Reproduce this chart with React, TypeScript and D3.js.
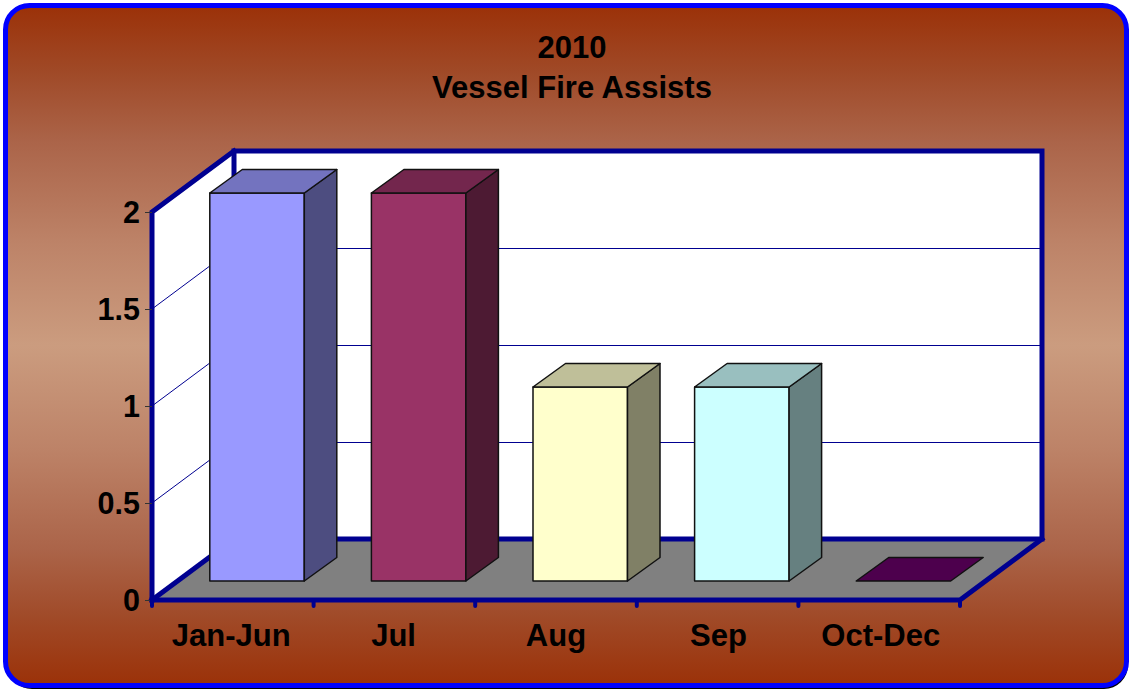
import React from "react";
import * as d3 from "d3";

const categories = ["Jan-Jun", "Jul", "Aug", "Sep", "Oct-Dec"];
const values = [2, 2, 1, 1, 0];
const colors = ["#9999ff", "#993366", "#ffffcc", "#ccffff", "#660066"];
const yTicks = [0, 0.5, 1, 1.5, 2];
const titleLines = ["2010", "Vessel Fire Assists"];

const W = 1129, H = 690;
const FONT = "'Liberation Sans', Arial, sans-serif";
const NAVY = "#000090";
const x0 = 152, x1 = 960, y0 = 600, y1 = 212;
const DX = 82, DY = -61;
const BAR_W = 94.5, BAR_OFF_X = 24.5, BAR_OFF_Y = -19, BAR_DX = 32.5, BAR_DY = -23.5;

const x = d3.scaleBand<string>().domain(categories).range([x0, x1]);
const xLabel = d3.scaleBand<string>().domain(categories).range([150, 962]);
const y = d3.scaleLinear().domain([0, 2]).range([y0, y1]);
const poly = (pts: [number, number][]) => d3.line()(pts) + "Z";
const shade = (c: string, k: number) => {
  const r = d3.rgb(c);
  return d3.rgb(r.r * k, r.g * k, r.b * k).formatHex();
};

export default function App() {
  const backL = x0 + DX, backR = x1 + DX;
  return (
    <svg width={W} height={H} viewBox={`0 0 ${W} ${H}`}
      style={{ position: "absolute", left: 0, top: 0, display: "block" }}>
      <defs>
        <linearGradient id="bg" x1="0" y1="0" x2="0" y2="1">
          <stop offset="0" stopColor="#9b3108" />
          <stop offset="0.1" stopColor="#a04a28" />
          <stop offset="0.2" stopColor="#ab6449" />
          <stop offset="0.35" stopColor="#bd8368" />
          <stop offset="0.5" stopColor="#cb9c7f" />
          <stop offset="0.65" stopColor="#bd8368" />
          <stop offset="0.8" stopColor="#ab6449" />
          <stop offset="0.9" stopColor="#a04a28" />
          <stop offset="1" stopColor="#9b3108" />
        </linearGradient>
      </defs>
      <rect x={8} y={8} width={1120} height={681} rx={24} fill="#000" />
      <rect x={5.5} y={5.5} width={1121} height={680} rx={24} fill="url(#bg)" stroke="#0000ff" strokeWidth={5} />

      {titleLines.map((t, i) => (
        <text key={t} x={572} y={58 + i * 40} textAnchor="middle" fontFamily={FONT} fontWeight="bold" fontSize={31} fill="#000">{t}</text>
      ))}

      {/* walls */}
      <rect x={backL} y={y(2) + DY} width={x1 - x0} height={y0 - y1} fill="#fff" />
      <path d={poly([[x0, y1], [backL, y1 + DY], [backL, y0 + DY], [x0, y0]])} fill="#fff" />
      <path d={poly([[x0, y0], [x1, y0], [backR, y0 + DY], [backL, y0 + DY]])} fill="#808080" />

      {/* gridlines */}
      {yTicks.filter(t => t > 0 && t < 2).map(t => (
        <g key={t} stroke={NAVY} strokeWidth={1} fill="none">
          <line x1={x0} y1={y(t)} x2={backL} y2={y(t) + DY} />
          <line x1={backL} y1={y(t) + DY} x2={backR} y2={y(t) + DY} shapeRendering="crispEdges" />
        </g>
      ))}

      {/* wall borders */}
      <g stroke={NAVY} strokeWidth={5} fill="none" strokeLinecap="square">
        <path d={`M${backL},${y0 + DY}V${y1 + DY}H${backR}V${y0 + DY}H${backL}`} />
        <path d={`M${x0},${y0}V${y1}L${backL},${y1 + DY}`} />
        <path d={`M${x0},${y0}L${backL},${y0 + DY}`} />
        <path d={`M${x0},${y0}H${x1}L${backR},${y0 + DY}`} />
      </g>

      {/* axis ticks */}
      {yTicks.map(t => (
        <g key={t}>
          <line x1={145} x2={x0} y1={y(t)} y2={y(t)} stroke="#333" strokeWidth={1} shapeRendering="crispEdges" />
          <text x={140} y={y(t) + 11} textAnchor="end" fontFamily={FONT} fontWeight="bold" fontSize={30.5} fill="#000">{t}</text>
        </g>
      ))}
      {categories.map(c => (
        <line key={c} x1={x(c)!} x2={x(c)!} y1={y0} y2={y0 + 6} stroke={NAVY} strokeWidth={4} strokeLinecap="round" />
      ))}
      <line x1={x1} x2={x1} y1={y0} y2={y0 + 6} stroke={NAVY} strokeWidth={4} strokeLinecap="round" />
      {categories.map(c => (
        <text key={c} x={xLabel(c)! + xLabel.bandwidth() / 2} y={646} textAnchor="middle" fontFamily={FONT} fontWeight="bold" fontSize={31} fill="#000">{c}</text>
      ))}

      {/* bars */}
      {categories.map((c, i) => {
        const l = x(c)! + x.bandwidth() / 2 - 47.5 + BAR_OFF_X;
        const r = l + BAR_W;
        const b = y(0) + BAR_OFF_Y;
        const t = y(values[i]) + BAR_OFF_Y;
        const col = colors[i];
        return (
          <g key={c} stroke="#111" strokeWidth={1.5} strokeLinejoin="round">
            {values[i] > 0 && <rect x={l} y={t} width={BAR_W} height={b - t} fill={col} />}
            {values[i] > 0 && <path d={poly([[r, b], [r + BAR_DX, b + BAR_DY], [r + BAR_DX, t + BAR_DY], [r, t]])} fill={shade(col, 0.5)} />}
            <path d={poly([[l, t], [l + BAR_DX, t + BAR_DY], [r + BAR_DX, t + BAR_DY], [r, t]])} fill={shade(col, 0.75)} />
          </g>
        );
      })}
    </svg>
  );
}
